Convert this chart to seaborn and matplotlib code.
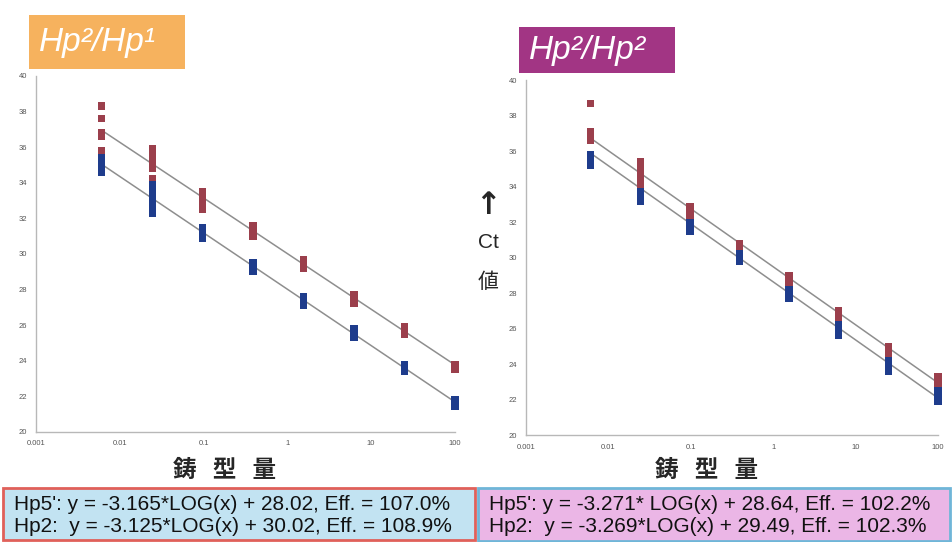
import numpy as np
import pandas as pd
import matplotlib
matplotlib.use("Agg")
import matplotlib.pyplot as plt
from matplotlib.patches import Rectangle
import seaborn as sns

sns.set_theme(style="white")
plt.rcParams['font.family'] = ['Liberation Sans', 'Noto Sans CJK JP', 'DejaVu Sans']

# template amounts (4-fold dilution series)
dilutions = [0.0061, 0.0244, 0.0977, 0.3906, 1.5625, 6.25, 25, 100]

# Ct replicates per dilution, left panel (Hp2/Hp1)
left_hp2 = [[38.3, 37.6, 36.8, 36.6, 35.8, 35.6],
            [35.9, 35.6, 35.3, 35.0, 34.8, 34.2, 34.0],
            [33.5, 33.2, 33.0, 32.7, 32.5],
            [31.6, 31.3, 31.0],
            [29.7, 29.4, 29.2],
            [27.7, 27.4, 27.2],
            [25.9, 25.6, 25.5],
            [23.8, 23.6, 23.5]]
left_hp5 = [[35.4, 35.1, 34.9, 34.6],
            [33.9, 33.6, 33.3, 33.0, 32.7, 32.3],
            [31.5, 31.2, 30.9],
            [29.5, 29.2, 29.0],
            [27.6, 27.3, 27.1],
            [25.8, 25.5, 25.3],
            [23.8, 23.5, 23.4],
            [21.8, 21.6, 21.45]]

# right panel (Hp2/Hp2)
right_hp2 = [[38.7, 37.1, 36.8, 36.6],
             [35.4, 35.0, 34.6, 34.2, 33.9],
             [32.9, 32.6, 32.3],
             [30.8, 30.6, 30.4],
             [29.0, 28.7, 28.45],
             [27.0, 26.8, 26.5],
             [25.0, 24.8, 24.6],
             [23.3, 23.0, 22.85]]
right_hp5 = [[35.8, 35.5, 35.2],
             [33.7, 33.4, 33.2],
             [32.0, 31.7, 31.5],
             [30.2, 30.0, 29.8],
             [28.2, 27.9, 27.7],
             [26.2, 25.9, 25.6],
             [24.2, 23.9, 23.6],
             [22.5, 22.2, 21.9]]

# standard curve coefficients: Ct = slope*log10(x) + intercept
left_slopes = {"Hp5'": -3.165, "Hp2": -3.125}
left_icepts = {"Hp5'": 28.02, "Hp2": 30.02}
right_slopes = {"Hp5'": -3.271, "Hp2": -3.269}
right_icepts = {"Hp5'": 28.64, "Hp2": 29.49}

titles = ["Hp²/Hp¹", "Hp²/Hp²"]
title_colors = ["#F6B25E", "#A23584"]
formulas = [["Hp5': y = -3.165*LOG(x) + 28.02, Eff. = 107.0%",
             "Hp2:  y = -3.125*LOG(x) + 30.02, Eff. = 108.9%"],
            ["Hp5': y = -3.271* LOG(x) + 28.64, Eff. = 102.2%",
             "Hp2:  y = -3.269*LOG(x) + 29.49, Eff. = 102.3%"]]
box_fill = ["#C2E3F2", "#EBB6E6"]
box_edge = ["#E0605A", "#6FB6D8"]

xticks = [0.001, 0.01, 0.1, 1, 10, 100]
xticklabels = ["0.001", "0.01", "0.1", "1", "10", "100"]
yticks = [20, 22, 24, 26, 28, 30, 32, 34, 36, 38, 40]

palette = {"Hp2": "#9B3F4C", "Hp5'": "#1E3C8C"}


def to_frame(hp2, hp5):
    rows = []
    for x, reps in zip(dilutions, hp2):
        rows += [{"x": x, "ct": v, "primer": "Hp2"} for v in reps]
    for x, reps in zip(dilutions, hp5):
        rows += [{"x": x, "ct": v, "primer": "Hp5'"} for v in reps]
    return pd.DataFrame(rows)


fig = plt.figure(figsize=(9.52, 5.42), dpi=100)
ax_l = fig.add_axes([0.0378, 0.203, 0.440, 0.657])
ax_r = fig.add_axes([0.5525, 0.197, 0.4328, 0.655])

panels = [(ax_l, left_hp2, left_hp5, left_slopes, left_icepts),
          (ax_r, right_hp2, right_hp5, right_slopes, right_icepts)]

for ax, hp2, hp5, slopes, icepts in panels:
    df = to_frame(hp2, hp5)
    xs = np.array([dilutions[0], dilutions[-1]])
    for key in ["Hp2", "Hp5'"]:
        ax.plot(xs, slopes[key] * np.log10(xs) + icepts[key],
                color="#8E8E8E", lw=1.1, zorder=1)
    sns.scatterplot(data=df, x="x", y="ct", hue="primer", palette=palette,
                    marker="s", s=28, edgecolor="none", legend=False,
                    ax=ax, zorder=3, clip_on=False)
    ax.set_xscale("log")
    ax.set_xlim(0.001, 100)
    ax.set_ylim(20, 40)
    ax.set_xticks(xticks)
    ax.set_xticklabels(xticklabels)
    ax.minorticks_off()
    ax.set_yticks(yticks)
    ax.set_xlabel("")
    ax.set_ylabel("")
    for side in ["top", "right"]:
        ax.spines[side].set_visible(False)
    for side in ["left", "bottom"]:
        ax.spines[side].set_color("#B8B8B8")
        ax.spines[side].set_linewidth(1.0)
    ax.tick_params(axis="both", labelsize=5.5, colors="#B8B8B8",
                   labelcolor="#555555", length=3, width=0.8)
    ax.tick_params(axis="x", direction="in", pad=6)

# title boxes
title_boxes = [(29, 15, 156, 54), (519, 27, 156, 46)]
for (x0, y0, w, h), title, col in zip(title_boxes, titles, title_colors):
    fig.patches.append(Rectangle((x0 / 952, 1 - (y0 + h) / 542), w / 952, h / 542,
                                 transform=fig.transFigure, facecolor=col,
                                 edgecolor="none", zorder=0))
    fig.text((x0 + 10) / 952, 1 - (y0 + h / 2) / 542, title, color="white",
             fontsize=24, style="italic", ha="left", va="center")

# x axis labels
for xc in [225, 707]:
    fig.text(xc / 952, 1 - 470 / 542, "鋳   型   量", fontsize=17,
             fontweight="bold", family=["Noto Sans CJK JP"],
             ha="center", va="center")

# y label on right panel
fig.text(488 / 952, 1 - 205 / 542, "↑", fontsize=22, fontweight="bold",
         ha="center", va="center", family=["DejaVu Sans"])
fig.text(488 / 952, 1 - 242 / 542, "Ct", fontsize=15, ha="center", va="center")
fig.text(488 / 952, 1 - 282 / 542, "値", fontsize=15,
         family=["Noto Sans CJK JP"], ha="center", va="center")

# formula boxes
formula_boxes = [(3, 488, 472, 52), (478, 488, 472, 53)]
for (x0, y0, w, h), lines, fc, ec in zip(formula_boxes, formulas, box_fill, box_edge):
    fig.patches.append(Rectangle((x0 / 952, 1 - (y0 + h) / 542), w / 952, h / 542,
                                 transform=fig.transFigure, facecolor=fc,
                                 edgecolor=ec, linewidth=2, zorder=0))
    for i, line in enumerate(lines):
        fig.text((x0 + 11) / 952, 1 - (y0 + 17 + i * 22) / 542, line,
                 fontsize=15, ha="left", va="center", color="#111111")

fig.savefig("out.png", dpi=100)
